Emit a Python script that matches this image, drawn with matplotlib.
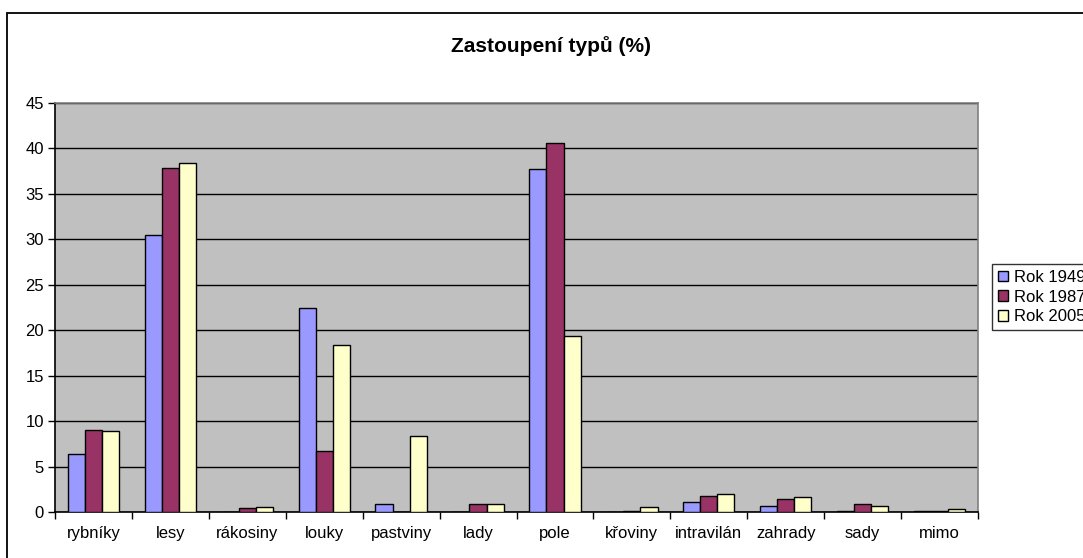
import numpy as np
import matplotlib
matplotlib.use("Agg")
from matplotlib import pyplot as plt
from matplotlib.patches import Rectangle

plt.rcParams['font.family'] = ['Liberation Sans', 'DejaVu Sans']

# data
kategorie = ['rybníky', 'lesy', 'rákosiny', 'louky', 'pastviny', 'lady',
             'pole', 'křoviny', 'intravilán', 'zahrady', 'sady', 'mimo']
rok_1949 = [6.4, 30.5, 0.0, 22.5, 0.9, 0.0, 37.7, 0.0, 1.1, 0.7, 0.15, 0.1]
rok_1987 = [9.0, 37.9, 0.4, 6.7, 0.0, 0.9, 40.6, 0.1, 1.8, 1.45, 0.9, 0.1]
rok_2005 = [8.9, 38.4, 0.6, 18.4, 8.4, 0.9, 19.4, 0.6, 2.0, 1.6, 0.7, 0.3]
serie = ['Rok 1949', 'Rok 1987', 'Rok 2005']
barvy = ['#9999FF', '#993366', '#FFFFCC']

fig = plt.figure(figsize=(10.83, 5.58), dpi=100)
ax = fig.add_axes([55 / 1083, 1 - 512 / 558, (978 - 55) / 1083, (512 - 103) / 558])

x = np.arange(len(kategorie))
w = 1 / 4.5
for i, (vals, name, c) in enumerate(zip([rok_1949, rok_1987, rok_2005], serie, barvy)):
    ax.bar(x + (i - 1) * w, vals, width=w, color=c, edgecolor='black',
           linewidth=1.0, label=name, zorder=3)

ax.set_facecolor('#C0C0C0')
ax.set_xlim(-0.5, len(kategorie) - 0.5)
ax.set_ylim(0, 45)
ax.set_yticks(np.arange(0, 46, 5))
ax.yaxis.grid(True, color='black', linewidth=1.0, zorder=1)
ax.set_axisbelow(True)

# ticks between categories, labels in the middle
ax.set_xticks(np.arange(-0.5, len(kategorie), 1))
ax.set_xticklabels([])
ax.set_xticks(x, minor=True)
ax.set_xticklabels(kategorie, minor=True, fontsize=12)
ax.tick_params(axis='x', which='minor', length=0, pad=10)
ax.tick_params(axis='x', which='major', length=5, width=1, color='black', direction='out')
ax.tick_params(axis='y', length=5, width=1, labelsize=12, pad=3)

ax.spines['left'].set_color('black')
ax.spines['bottom'].set_color('black')
ax.spines['top'].set_color('#808080')
ax.spines['right'].set_color('#808080')
for s in ax.spines.values():
    s.set_linewidth(1.2)

fig.text(551 / 1083, 1 - 46 / 558, 'Zastoupení typů (%)', ha='center', va='center',
         fontsize=15, fontweight='bold')

# legend runs past the right edge, as in the original
leg = fig.legend(loc='upper left', bbox_to_anchor=(992 / 1083, 1 - 264 / 558),
                 frameon=True, fancybox=False, edgecolor='black', fontsize=12,
                 handlelength=0.6, handleheight=0.6, handletextpad=0.4,
                 labelspacing=0.28, borderpad=0.35, borderaxespad=0)
leg.get_frame().set_linewidth(1.0)

# outer chart frame
fig.patches.append(Rectangle((7 / 1083, -0.1), 2, 1 - 13 / 558 + 0.1,
                             transform=fig.transFigure, fill=False,
                             edgecolor='black', linewidth=1.3))

fig.savefig('out.png', dpi=100)
